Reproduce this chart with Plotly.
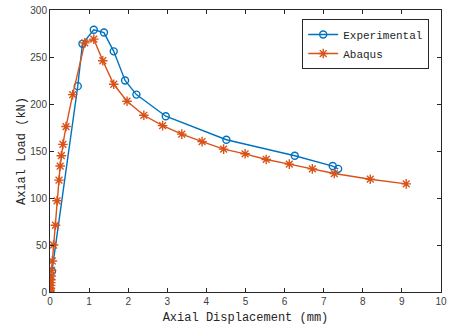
import plotly.graph_objects as go

exp_x = [0.0, 0.05, 0.71, 0.83, 1.12, 1.38, 1.63, 1.92, 2.21, 2.96, 4.51, 6.26, 7.23, 7.37]
exp_y = [0, 22, 219, 264, 279, 276, 256, 225, 210, 187, 162, 145, 134, 131]

aba_x = [0.0, 0.005, 0.01, 0.015, 0.02, 0.025, 0.03, 0.04, 0.06, 0.09, 0.14, 0.18, 0.23, 0.26,
         0.29, 0.33, 0.41, 0.58, 0.89, 1.12, 1.35, 1.63, 1.97, 2.40, 2.88, 3.37, 3.89,
         4.44, 4.99, 5.53, 6.12, 6.71, 7.27, 8.19, 9.11]
aba_y = [0, 2, 4, 7, 10, 13, 17, 23, 33, 50, 71, 97, 119, 134,
         145, 157, 176, 210, 265, 269, 246, 221, 203, 188, 177, 168, 160,
         152, 147, 141, 136, 131, 126, 120, 115]

x_ticks = list(range(0, 11))
y_ticks = [0, 50, 100, 150, 200, 250, 300]

BLUE = "#0072BD"
ORANGE = "#D95319"
AX = "#262626"

fig = go.Figure()
fig.add_trace(go.Scatter(
    x=exp_x, y=exp_y, name="Experimental", mode="lines+markers",
    line=dict(color=BLUE, width=1.4),
    marker=dict(symbol="circle-open", size=7, color=BLUE, line=dict(width=1.4, color=BLUE)),
))
fig.add_trace(go.Scatter(
    x=aba_x, y=aba_y, name="Abaqus", mode="lines+markers",
    line=dict(color=ORANGE, width=1.4),
    marker=dict(symbol="asterisk-open", size=8, color=ORANGE, line=dict(width=1.4, color=ORANGE)),
))

axis_common = dict(
    showgrid=False, zeroline=False, showline=True, linecolor=AX, linewidth=1,
    mirror="ticks", ticks="inside", ticklen=4, tickcolor=AX, tickwidth=1,
    automargin=False, ticklabeloverflow="allow",
    tickfont=dict(family="Liberation Sans, Arial", size=10, color="#404040"),
)

fig.update_layout(
    width=451, height=329,
    margin=dict(l=50, r=10, t=10, b=37),
    paper_bgcolor="white", plot_bgcolor="white",
    xaxis=dict(range=[0, 10], tickvals=x_ticks, ticktext=[str(v) for v in x_ticks],
               title=dict(text="Axial Displacement (mm)", standoff=6,
                          font=dict(family="Liberation Mono, Courier New", size=12, color=AX)),
               **axis_common),
    yaxis=dict(range=[0, 300], tickvals=y_ticks, ticktext=[str(v) for v in y_ticks],
               title=dict(text="Axial Load (kN)", standoff=2,
                          font=dict(family="Liberation Mono, Courier New", size=12, color=AX)),
               **axis_common),
    legend=dict(x=0.645, y=0.968, xanchor="left", yanchor="top",
                bgcolor="white", bordercolor=AX, borderwidth=1,
                font=dict(family="Liberation Mono, Courier New", size=11, color=AX),
                tracegroupgap=0, itemwidth=30),
    showlegend=True,
)

fig.write_html("out.html", config={"displayModeBar": False},
               post_script="document.body.style.margin='0';document.body.style.overflow='hidden';")
